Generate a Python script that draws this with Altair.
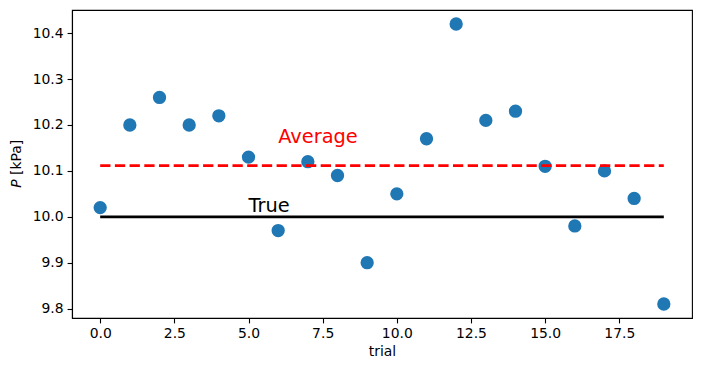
import altair as alt
import pandas as pd

# Data
trials = list(range(20))
pressure = [10.02, 10.20, 10.26, 10.20, 10.22, 10.13, 9.97, 10.12, 10.09, 9.90,
            10.05, 10.17, 10.42, 10.21, 10.23, 10.11, 9.98, 10.10, 10.04, 9.81]
true_value = 10.0
x_ticks = [0, 2.5, 5, 7.5, 10, 12.5, 15, 17.5]
y_ticks = [9.8, 9.9, 10.0, 10.1, 10.2, 10.3, 10.4]
label_text = ["Average", "True"]
label_x = [6, 5]
label_y = [10.16, 10.01]
label_color = ["#ff0000", "#000000"]

avg = sum(pressure) / len(pressure)

pts = pd.DataFrame({"trial": trials, "P": pressure})
avg_df = pd.DataFrame({"trial": [trials[0], trials[-1]], "P": [avg, avg]})
true_df = pd.DataFrame({"trial": [trials[0], trials[-1]], "P": [true_value, true_value]})
lab_df = pd.DataFrame({"t": label_text, "trial": label_x, "P": label_y, "c": label_color})

FONT = "DejaVu Sans"
xs = alt.Scale(domain=[-0.95, 19.95], nice=False, zero=False)
ys = alt.Scale(domain=[9.7795, 10.4505], nice=False, zero=False)

xenc = alt.X("trial:Q", scale=xs,
             axis=alt.Axis(values=x_ticks, format=".1f", title="trial", grid=False))
yenc = alt.Y("P:Q", scale=ys,
             axis=alt.Axis(values=y_ticks, format=".1f", title=None, grid=False))

points = alt.Chart(pts).mark_circle(size=177, opacity=1, color="#1f77b4").encode(x=xenc, y=yenc)

avg_line = alt.Chart(avg_df).mark_line(color="#ff0000", strokeWidth=2.78,
                                       strokeDash=[10.3, 4.4]).encode(x="trial:Q", y="P:Q")
true_line = alt.Chart(true_df).mark_line(color="#000000", strokeWidth=2.78).encode(x="trial:Q", y="P:Q")

labels = alt.Chart(lab_df).mark_text(align="left", baseline="alphabetic", fontSize=19.4,
                                     font=FONT).encode(
    x="trial:Q", y="P:Q", text="t:N", color=alt.Color("c:N", scale=None))

ylab_p = alt.Chart(pd.DataFrame({"t": ["P"]})).mark_text(
    angle=270, align="left", baseline="middle", fontSize=13.9, font=FONT, fontStyle="italic",
    color="black").encode(text="t:N", x=alt.value(-55), y=alt.value(177.8))
ylab_u = alt.Chart(pd.DataFrame({"t": ["[kPa]"]})).mark_text(
    angle=270, align="left", baseline="middle", fontSize=13.9, font=FONT,
    color="black").encode(text="t:N", x=alt.value(-55), y=alt.value(165))

chart = alt.layer(points, avg_line, true_line, labels, ylab_p, ylab_u).properties(
    width=620, height=308,
    autosize=alt.AutoSizeParams(type="none"),
    padding={"left": 64, "top": 2, "right": 2, "bottom": 45},
).configure_view(stroke="black", strokeWidth=1.1).configure_axis(
    domainColor="black", domainWidth=1.1, tickColor="black", tickWidth=1.1, tickSize=4.9,
    labelFont=FONT, labelFontSize=13.9, labelColor="black", labelPadding=4,
    titleFont=FONT, titleFontSize=13.9, titleFontWeight="normal", titleColor="black",
    titlePadding=4,
)

chart.save("out.html", embed_options={"renderer": "svg", "actions": False})
